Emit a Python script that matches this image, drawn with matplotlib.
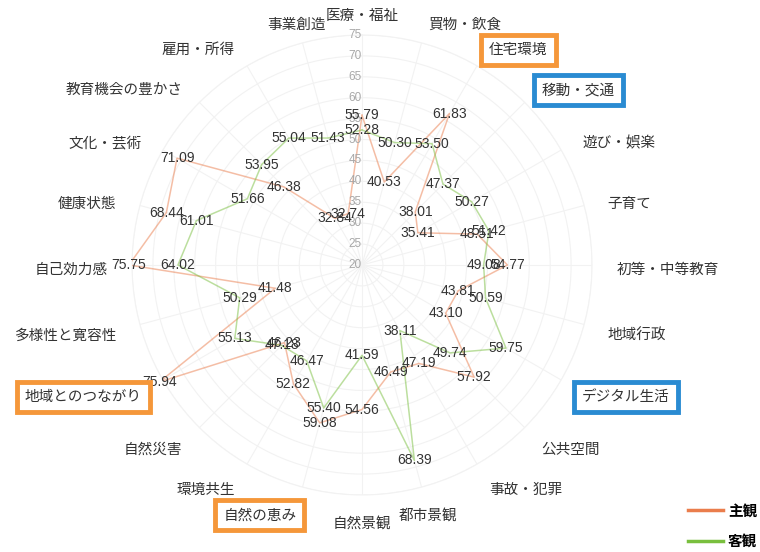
import numpy as np
import matplotlib
matplotlib.use("Agg")
import matplotlib.pyplot as plt
from matplotlib.lines import Line2D
import matplotlib.transforms as mtransforms

plt.rcParams["font.family"] = ["Noto Sans CJK JP", "DejaVu Sans"]

# categories, clockwise from the top
categories = [
    "医療・福祉", "買物・飲食", "住宅環境", "移動・交通", "遊び・娯楽", "子育て",
    "初等・中等教育", "地域行政", "デジタル生活", "公共空間", "事故・犯罪", "都市景観",
    "自然景観", "自然の恵み", "環境共生", "自然災害", "地域とのつながり", "多様性と寛容性",
    "自己効力感", "健康状態", "文化・芸術", "教育機会の豊かさ", "雇用・所得", "事業創造",
]

subjective = [55.79, 40.53, 61.83, 38.01, 35.41, 48.51, 54.77, 43.81, 43.10, 57.92,
              47.19, 46.49, 54.56, 59.08, 52.82, 46.23, 75.94, 41.48, 75.75, 68.44,
              71.09, 46.38, 32.84, 32.74]
objective = [52.28, 50.30, 53.50, 47.37, 50.27, 51.42, 49.08, 50.59, 59.75, 49.74,
             38.11, 68.39, 41.59, 55.40, 46.47, 47.18, 55.13, 50.29, 64.02, 61.01,
             51.66, 53.95, 55.04, 51.43]

series_names = ["主観", "客観"]
radial_ticks = [20, 25, 30, 35, 40, 45, 50, 55, 60, 65, 70, 75]

# highlighted labels
orange_box = ["住宅環境", "地域とのつながり", "自然の恵み"]
blue_box = ["移動・交通", "デジタル生活"]

ORANGE = "#EA7D4C"
GREEN = "#79BF3E"
BOX_ORANGE = "#F5973A"
BOX_BLUE = "#2A8BD2"

fig = plt.figure(figsize=(7.6, 5.52), dpi=100)
ax = fig.add_axes([0.1737, 0.1033, 0.6053, 0.8333], projection="polar")
ax.set_theta_zero_location("N")
ax.set_theta_direction(-1)
ax.set_ylim(20, 75)

n = len(categories)
theta = np.arange(n) * 2 * np.pi / n
theta_closed = np.append(theta, theta[0])

# grid
ax.set_xticks(theta)
ax.set_xticklabels([])
ax.set_yticks(radial_ticks)
ax.set_yticklabels([])
ax.grid(True, color="#f2f2f2", linewidth=0.8)
ax.spines["polar"].set_color("#f2f2f2")
ax.spines["polar"].set_linewidth(0.8)

for vals, color in [(subjective, ORANGE), (objective, GREEN)]:
    ax.plot(theta_closed, np.append(vals, vals[0]), color=color,
            alpha=0.5, linewidth=1.1, zorder=3)

# radial tick labels along the top spoke
for t in radial_ticks:
    ax.text(0, t, str(t), ha="right", va="center", fontsize=8.5,
            color="#a8a8a8", family=["Liberation Sans", "DejaVu Sans"], zorder=4)

# value labels
for vals in [subjective, objective]:
    for th, v in zip(theta, vals):
        ax.text(th, v, f"{v:.2f}", ha="center", va="center", fontsize=10,
                color="#333333", family=["Liberation Sans", "DejaVu Sans"], zorder=5)

# category labels
r_lab = 20 + 254 / 4.18
shift = ax.transData + mtransforms.ScaledTranslation(0, -5 / 100, fig.dpi_scale_trans)
centered = ["医療・福祉", "自然景観", "事業創造", "都市景観"]
for th, name in zip(theta, categories):
    s = np.sin(th)
    if name in centered:
        ha = "center"
    elif s > 0:
        ha = "left"
    else:
        ha = "right"
    kw = {}
    if name in orange_box:
        kw["bbox"] = dict(boxstyle="square,pad=0.55", fc="white", ec=BOX_ORANGE, lw=3.5)
    elif name in blue_box:
        kw["bbox"] = dict(boxstyle="square,pad=0.55", fc="white", ec=BOX_BLUE, lw=3.5)
    ax.text(th, r_lab, name, ha=ha, va="center", fontsize=10.5, color="#333333",
            clip_on=False, zorder=6, transform=shift, **kw)

handles = [Line2D([], [], color=ORANGE, lw=2.5), Line2D([], [], color=GREEN, lw=2.5)]
leg = fig.legend(handles, series_names, loc="lower right", bbox_to_anchor=(1.0, 0.0),
                 frameon=False, handlelength=2.4, handletextpad=0.3, labelspacing=1.0,
                 borderaxespad=0, borderpad=0.2,
                 prop={"size": 10.5, "weight": "bold"})

fig.savefig("out.png", dpi=100)
